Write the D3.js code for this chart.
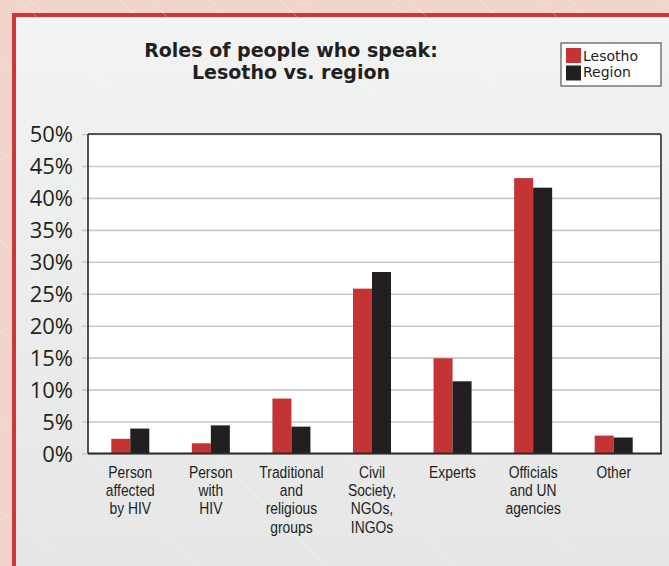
<!DOCTYPE html>
<html>
<head>
<meta charset="utf-8">
<script src="https://cdn.jsdelivr.net/npm/d3@7"></script>
<style>
  html, body { margin: 0; padding: 0; background: #f2d8ce; }
  svg { display: block; }
</style>
</head>
<body>
<script>
const categories = [
  ["Person", "affected", "by HIV"],
  ["Person", "with", "HIV"],
  ["Traditional", "and", "religious", "groups"],
  ["Civil", "Society,", "NGOs,", "INGOs"],
  ["Experts"],
  ["Officials", "and UN", "agencies"],
  ["Other"]
];
const seriesNames = ["Lesotho", "Region"];
const lesotho = [2.3, 1.6, 8.6, 25.8, 14.9, 43.1, 2.8];
const region  = [3.9, 4.4, 4.2, 28.4, 11.3, 41.6, 2.5];
const yTicks = [0, 5, 10, 15, 20, 25, 30, 35, 40, 45, 50];
const titleLines = ["Roles of people who speak:", "Lesotho vs. region"];

const colors = { Lesotho: "#c43434", Region: "#231f20" };
const W = 669, H = 566;
const plot = { left: 88, top: 134, right: 661, bottom: 453.5 };

const svg = d3.select("body").append("svg").attr("width", W).attr("height", H);
const defs = svg.append("defs");
const grad = defs.append("linearGradient").attr("id", "panelGrad")
  .attr("x1", 0).attr("y1", 0).attr("x2", 0).attr("y2", 1);
grad.append("stop").attr("offset", "0%").attr("stop-color", "#f2f3f3");
grad.append("stop").attr("offset", "100%").attr("stop-color", "#e6e6e7");

// background
svg.append("rect").attr("width", W).attr("height", H).attr("fill", "#f1d5ca");
const tex = svg.append("g").attr("stroke", "#ffffff").attr("stroke-opacity", 0.35).attr("stroke-width", 1);
d3.range(-600, 700, 90).forEach(s => {
  tex.append("line").attr("x1", s).attr("y1", 0).attr("x2", s + 566).attr("y2", 566);
});
// red border panel
svg.append("rect").attr("x", 12).attr("y", 13).attr("width", W).attr("height", H).attr("fill", "#d03538");
svg.append("rect").attr("x", 16).attr("y", 17).attr("width", W).attr("height", H).attr("fill", "url(#panelGrad)");
const tex2 = svg.append("g").attr("stroke", "#ffffff").attr("stroke-opacity", 0.3).attr("stroke-width", 1);
d3.range(-500, 700, 130).forEach(s => {
  tex2.append("line").attr("x1", Math.max(s, 16)).attr("y1", Math.max(s, 16) - s)
    .attr("x2", s + 566).attr("y2", 566);
});

// scales
const y = d3.scaleLinear().domain([0, 50]).range([plot.bottom, plot.top]);
const x0 = d3.scaleBand().domain(d3.range(categories.length)).range([90, 654]).padding(0);
const pairW = 38;
const x1 = d3.scaleBand().domain(seriesNames).range([0, pairW]).padding(0);

// plot area
svg.append("rect").attr("x", plot.left).attr("y", plot.top)
  .attr("width", plot.right - plot.left).attr("height", plot.bottom - plot.top)
  .attr("fill", "#ffffff");

// gridlines + ticks
const gy = svg.append("g").attr("transform", `translate(${plot.right},0)`)
  .call(d3.axisLeft(y).tickValues(yTicks).tickSize(plot.right - plot.left + 6).tickFormat(""));
gy.select(".domain").remove();
gy.selectAll(".tick line").attr("stroke", "#c9c9c9").attr("stroke-width", 1.6);

// y labels
const gl = svg.append("g").attr("transform", `translate(${plot.left},0)`)
  .call(d3.axisLeft(y).tickValues(yTicks).tickSize(0).tickPadding(15).tickFormat(d => d + "%"));
gl.select(".domain").remove();
gl.selectAll(".tick text")
  .attr("font-family", "'Open Sans', 'Noto Sans', sans-serif")
  .attr("font-size", 22).attr("fill", "#231f20").attr("dy", "0.36em");

// bars
const data = categories.map((c, i) => ({ i, vals: [
  { key: "Lesotho", v: lesotho[i] }, { key: "Region", v: region[i] } ] }));
const groups = svg.append("g").selectAll("g").data(data).join("g")
  .attr("transform", d => `translate(${x0(d.i) + x0.bandwidth() / 2 - pairW / 2},0)`);
groups.selectAll("rect").data(d => d.vals).join("rect")
  .attr("x", d => x1(d.key)).attr("width", x1.bandwidth())
  .attr("y", d => y(d.v)).attr("height", d => y(0) - y(d.v))
  .attr("fill", d => colors[d.key]);

// frame
const frame = svg.append("g").attr("fill", "none");
frame.append("line").attr("x1", plot.left).attr("x2", plot.right).attr("y1", plot.top).attr("y2", plot.top)
  .attr("stroke", "#2a2a2a").attr("stroke-width", 1.6);
frame.append("line").attr("x1", plot.right).attr("x2", plot.right).attr("y1", plot.top).attr("y2", plot.bottom)
  .attr("stroke", "#555555").attr("stroke-width", 2);
frame.append("line").attr("x1", plot.left).attr("x2", plot.left).attr("y1", plot.top).attr("y2", plot.bottom)
  .attr("stroke", "#2a2a2a").attr("stroke-width", 1.6);
frame.append("line").attr("x1", plot.left).attr("x2", plot.right + 1).attr("y1", plot.bottom).attr("y2", plot.bottom)
  .attr("stroke", "#2a2a2a").attr("stroke-width", 2);

// x labels (condensed look via horizontal scale)
const xl = svg.append("g").selectAll("text").data(categories).join("text")
  .attr("font-family", "'Liberation Sans', Arial, sans-serif")
  .attr("font-size", 16.5).attr("fill", "#231f20").attr("text-anchor", "middle")
  .attr("transform", (d, i) => `translate(${x0(i) + x0.bandwidth() / 2},477.5) scale(0.84,1)`);
xl.selectAll("tspan").data(d => d).join("tspan")
  .attr("x", 0).attr("y", (d, j) => j * 18.5).text(d => d);

// title (two lines)
svg.append("g").selectAll("text").data(titleLines).join("text")
  .attr("x", 291).attr("y", (d, i) => 57 + i * 22.4)
  .attr("text-anchor", "middle")
  .attr("font-family", "'DejaVu Sans', sans-serif")
  .attr("font-weight", "bold").attr("font-size", 19).attr("fill", "#231f20")
  .text(d => d);

// legend
const lg = svg.append("g");
lg.append("rect").attr("x", 561).attr("y", 43).attr("width", 100).attr("height", 43)
  .attr("fill", "#ffffff").attr("stroke", "#333").attr("stroke-width", 1);
const li = lg.selectAll("g").data(seriesNames).join("g")
  .attr("transform", (d, i) => `translate(566,${48 + i * 17.5})`);
li.append("rect").attr("width", 15).attr("height", 15).attr("fill", d => colors[d]);
lg.selectAll("text").data(seriesNames).join("text")
  .attr("x", 583).attr("y", (d, i) => 60.8 + i * 16.5)
  .attr("font-family", "'DejaVu Sans', sans-serif")
  .attr("font-size", 14).attr("fill", "#231f20").text(d => d);
</script>
</body>
</html>
